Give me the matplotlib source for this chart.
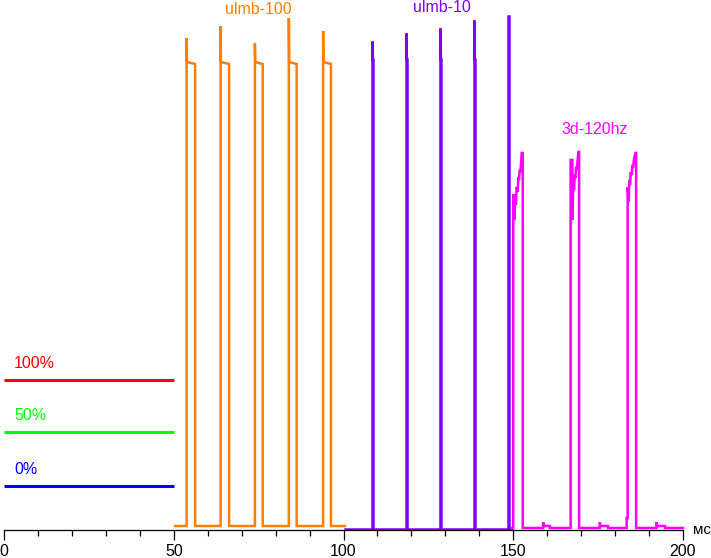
import numpy as np
import matplotlib
matplotlib.use("Agg")
import matplotlib.pyplot as plt
from matplotlib.ticker import MultipleLocator

plt.rcParams['font.family'] = ['Liberation Sans', 'DejaVu Sans']

# level scale: 0 = axis line
# --- reference levels (left part, 0..50 ms)
ref_labels = ["100%", "50%", "0%"]
ref_levels = [150, 98, 44]
ref_colors = ["#ff0000", "#00ff00", "#0000ff"]
ref_x = [0, 50]

# --- ulmb-100: pulses every 10 ms
u100_start, u100_end, u100_base = 50.4, 100.4, 4
u100_rise = [53.8, 63.8, 73.9, 83.9, 94.0]
u100_fall = [56.3, 66.3, 76.2, 86.2, 96.3]
u100_peak = [492, 504, 487, 512, 499]
u100_plateau = [468, 466]

# --- ulmb-10: narrow spikes
u10_start, u10_end, u10_base = 100.4, 149.6, 1
u10_rise = [108.3, 118.3, 128.4, 138.4, 148.5]
u10_peak = [489, 497, 502, 510, 514]
u10_shoulder = 471

# --- 3d-120hz: ramped pulses
m_start, m_end, m_base = 149.6, 200.0, 2
m_pulses = [
    ([150.0, 150.0, 150.3, 150.5, 150.8, 151.0, 151.3, 151.5, 151.7, 151.9, 152.1, 152.3, 152.5, 152.8, 152.8],
     [2, 336, 310, 333, 325, 343, 338, 353, 350, 360, 358, 367, 377, 377, 2]),
    ([166.9, 166.9, 167.4, 167.4, 167.7, 167.9, 168.1, 168.3, 168.5, 168.7, 168.9, 169.2, 169.4, 169.4],
     [2, 370, 370, 310, 347, 340, 355, 352, 363, 360, 368, 378, 378, 2]),
    ([183.4, 183.4, 183.7, 183.7, 184.0, 184.2, 184.4, 184.6, 184.9, 185.1, 185.3, 185.6, 186.0, 186.2, 186.2],
     [2, 12, 12, 343, 328, 350, 345, 358, 355, 365, 362, 372, 377, 377, 2]),
]
m_bumps = [(158.8, 160.8), (175.5, 177.9), (192.2, 194.7)]
m_bump_peak, m_bump_level = 8, 4


def orange_series():
    xs, ys = [u100_start], [u100_base]
    for r, f, p in zip(u100_rise, u100_fall, u100_peak):
        xs += [r, r, r + 0.1, f, f]
        ys += [u100_base, p, u100_plateau[0], u100_plateau[1], u100_base]
    xs.append(u100_end)
    ys.append(u100_base)
    return xs, ys


def purple_series():
    xs, ys = [u10_start], [u10_base]
    for r, p in zip(u10_rise, u10_peak):
        xs += [r, r, r + 0.15, r + 0.15, r + 0.35, r + 0.35]
        ys += [u10_base, p, p, u10_shoulder, u10_shoulder, u10_base]
    xs.append(u10_end)
    ys.append(u10_base)
    return xs, ys


def magenta_series():
    xs, ys = [m_start], [m_base]
    events = [(px[0], px, py) for px, py in m_pulses]
    events += [(a, [a, a, a + 0.1, b, b], [m_base, m_bump_peak, m_bump_level, m_bump_level, m_base])
               for a, b in m_bumps]
    for _, px, py in sorted(events, key=lambda e: e[0]):
        xs += px
        ys += py
    xs.append(m_end)
    ys.append(m_base)
    return xs, ys


fig = plt.figure(figsize=(7.11, 5.58), dpi=100)
ax = fig.add_axes([4 / 711, 28 / 558, 679 / 711, 530 / 558])
ax.set_xlim(0, 200)
ax.set_ylim(0, 530)

lw = 1.8
for lab, lev, col in zip(ref_labels, ref_levels, ref_colors):
    ax.plot(ref_x, [lev, lev], color=col, lw=2.2, solid_capstyle='butt')
    ax.text(3, lev + 9, lab, color=col, fontsize=11.5, ha='left', va='bottom')

xo, yo = orange_series()
ax.plot(xo, yo, color="#ff8000", lw=lw, solid_joinstyle='miter', clip_on=False)
xp, yp = purple_series()
ax.plot(xp, yp, color="#8000ff", lw=lw, solid_joinstyle='miter', clip_on=False)
xm, ym = magenta_series()
ax.plot(xm, ym, color="#ff00ff", lw=lw, solid_joinstyle='miter', clip_on=False)

ax.text(75.0, 520, "ulmb-100", color="#ff8000", fontsize=11.5, ha='center', va='center')
ax.text(129.0, 523, "ulmb-10", color="#8000ff", fontsize=11.5, ha='center', va='center')
ax.text(174.0, 400, "3d-120hz", color="#ff00ff", fontsize=11.5, ha='center', va='center')

for s in ['left', 'right', 'top']:
    ax.spines[s].set_visible(False)
ax.spines['bottom'].set_linewidth(0.9)
ax.set_yticks([])
ax.xaxis.set_major_locator(MultipleLocator(50))
ax.xaxis.set_minor_locator(MultipleLocator(10))
ax.tick_params(axis='x', which='major', length=7.2, width=0.9, direction='out', labelsize=11.5, pad=3)
ax.tick_params(axis='x', which='minor', length=4.3, width=0.9, direction='out')
ax.text(1.015, 0.0, "мс", transform=ax.transAxes, fontsize=11, ha='left', va='center')

fig.savefig("out.png", dpi=100)
